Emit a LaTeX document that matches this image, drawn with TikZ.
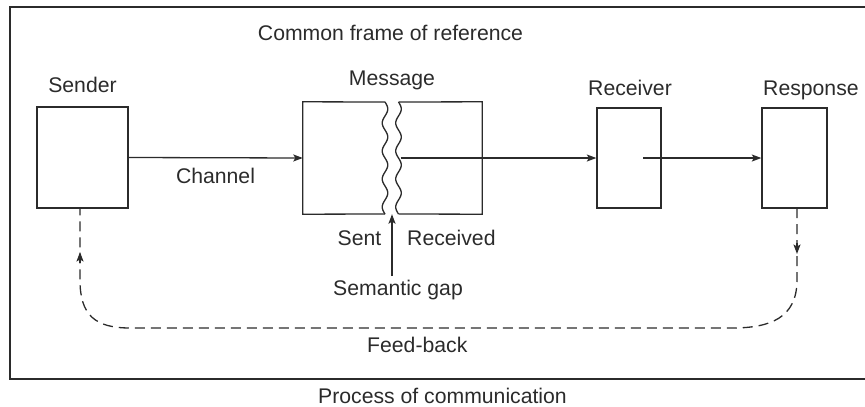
\documentclass[tikz,border=0pt]{standalone}
\usepackage{fontspec}
\setmainfont{Liberation Sans}
\usetikzlibrary{arrows.meta}
\definecolor{ink}{HTML}{2B2B2B}
\begin{document}
\begin{tikzpicture}[x=1pt,y=-1pt,
  stroke/.style={draw=ink, line width=1.3pt},
  blockbox/.style={stroke, rectangle, inner sep=0pt},
  txt/.style={font=\fontsize{21.2}{25}\selectfont, text=ink, inner sep=0pt, anchor=base},
  tipstyle/.style={-{Stealth[length=9.5pt,width=7pt,inset=2pt]}},
  arr/.style={stroke, tipstyle},
  fbline/.style={stroke, dash pattern=on 10pt off 6pt},
]
\useasboundingbox (0,0) rectangle (865,407);

% outer frame (open on the right)
\draw[stroke] (868,7) -- (10,7) -- (10,379) -- (868,379);

% blocks
\node[blockbox, minimum width=91pt, minimum height=101pt] (snd) at (82.5,157.5) {};
\node[inner sep=0pt, minimum width=179pt, minimum height=112pt] (msg) at (392.5,158) {};
\node[blockbox, minimum width=64pt, minimum height=100pt] (rcv) at (629,158) {};
\node[blockbox, minimum width=65pt, minimum height=100pt] (rsp) at (794.5,158) {};

% message block split by two wavy edges
\draw[stroke] (385,102) -- (msg.north west) -- (msg.south west) -- (385,214);
\draw[stroke] (398.5,102) -- (msg.north east) -- (msg.south east) -- (398.5,214);
\draw[stroke] plot[smooth, samples=57, domain=0:112, variable=\t]
  ({385+2.8*sin(\t*12.857)}, {102+\t});
\draw[stroke] plot[smooth, samples=57, domain=0:112, variable=\t]
  ({398.5+2.8*sin(\t*12.857)}, {102+\t});

% labels
\node[txt] (lcfr) at (390.5,40) {Common frame of reference};
\node[txt] (lsnd) at (82.5,92) {Sender};
\node[txt] (lmsg) at (392,85) {Message};
\node[txt, anchor=base west] (lrcv) at (588,95) {Receiver};
\node[txt, anchor=base west] (lrsp) at (763,95) {Response};
\node[txt] (lch) at (215.5,183) {Channel};
\node[txt] (lsent) at (359.5,245) {Sent};
\node[txt, anchor=base west] (lrcvd) at (407,245) {Received};
\node[txt, anchor=base west] (lgap) at (333,295) {Semantic gap};
\node[txt, anchor=base west] (lfb) at (367,352) {Feed-back};
\node[txt, anchor=base west] (lproc) at (318,403) {Process of communication};

% forward flow
\draw[arr] (snd.east) -- (msg.west);
\coordinate (wout) at (400.5,158);
\draw[arr] (wout) -- (rcv.west);
\coordinate (rin) at (643,158);
\draw[arr] (rin) -- (rsp.west);

% semantic gap pointer
\coordinate (gtail) at (392,276);
\draw[arr] (gtail) -- (msg.south -| gtail);

% feed-back loop
\coordinate (fbR) at (797,208);
\coordinate (fbL) at (80,208);
\draw[fbline] (fbR) -- (797,280) .. controls (797,318) and (770,328) .. (732,328)
  -- (130,328) .. controls (95,328) and (80,315) .. (80,280) -- (fbL);
\draw[arr] (797,243) -- (797,254);
\draw[arr] (80,263) -- (80,252);
\end{tikzpicture}
\end{document}
